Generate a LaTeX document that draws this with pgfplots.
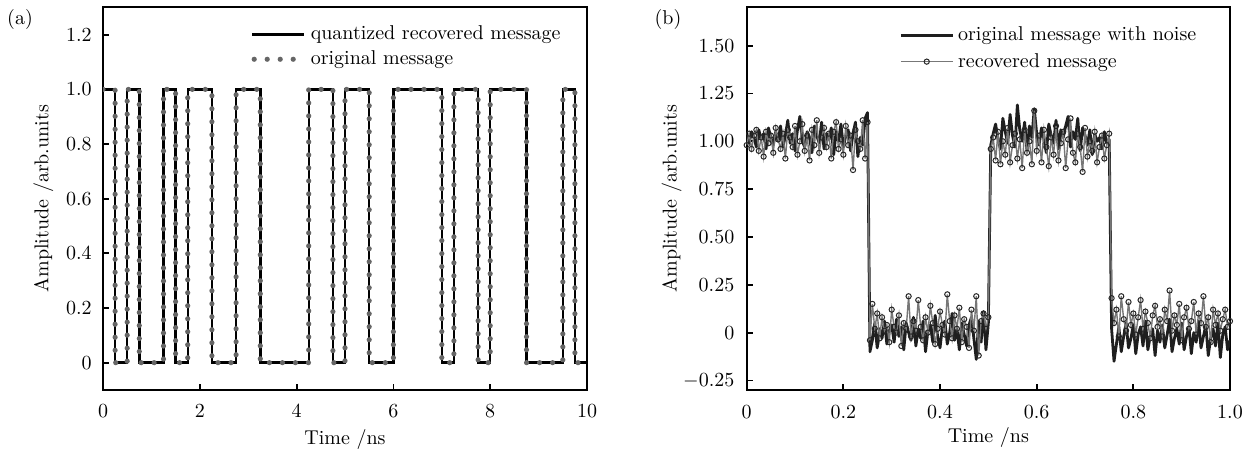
\documentclass[border=0pt]{standalone}
\usepackage{pgfplots}
\pgfplotsset{compat=1.18}
\usepackage{pgfplotstable}

\definecolor{dotgray}{HTML}{666666}
\definecolor{recgray}{HTML}{777777}
\definecolor{noiseblk}{HTML}{1E1E1E}

% panel (b): t, original message with noise, recovered message
\pgfplotstableread{
t orig rec
0.000 1.03 0.98
0.005 0.99 1.04
0.010 1.05 0.96
0.015 1.02 1.03
0.020 0.97 1.06
0.025 1.06 0.95
0.030 1.01 1.02
0.035 1.04 0.92
0.040 0.96 1.05
0.045 1.07 0.99
0.050 1.02 1.03
0.055 0.98 0.94
0.060 1.05 1.07
0.065 1.00 1.01
0.070 1.08 0.96
0.075 0.97 1.04
0.080 1.03 0.91
0.085 1.11 1.06
0.090 0.99 1.02
0.095 1.04 0.97
0.100 0.95 1.08
0.105 1.06 0.93
0.110 1.13 1.00
0.115 1.00 1.09
0.120 0.97 0.95
0.125 1.05 1.03
0.130 1.02 0.90
0.135 0.94 1.06
0.140 1.08 0.98
0.145 1.03 1.11
0.150 0.99 0.94
0.155 1.10 1.02
0.160 0.96 1.07
0.165 1.04 0.97
0.170 1.01 1.04
0.175 1.07 0.91
0.180 0.93 1.05
0.185 1.05 1.10
0.190 1.00 0.96
0.195 1.09 1.01
0.200 0.97 0.93
0.205 1.03 1.08
0.210 1.06 0.98
0.215 0.95 1.03
0.220 1.04 0.85
0.225 1.10 1.06
0.230 0.92 1.00
0.235 1.02 0.96
0.240 0.98 1.11
0.245 1.12 0.91
0.250 1.15 1.10
0.255 -0.10 -0.04
0.260 -0.04 0.15
0.265 0.05 0.02
0.270 -0.08 0.10
0.275 0.02 -0.03
0.280 -0.03 0.08
0.285 0.06 0.01
0.290 -0.06 0.04
0.295 0.01 -0.05
0.300 0.04 0.12
0.305 -0.05 0.03
0.310 0.07 0.00
0.315 -0.02 0.09
0.320 0.03 -0.07
0.325 -0.09 0.05
0.330 0.05 0.02
0.335 0.00 0.19
0.340 -0.04 -0.02
0.345 0.08 0.06
0.350 -0.07 0.01
0.355 0.02 0.17
0.360 -0.03 0.03
0.365 0.06 -0.04
0.370 -0.10 0.08
0.375 0.01 0.00
0.380 0.04 0.14
0.385 -0.05 0.05
0.390 0.09 -0.06
0.395 -0.02 0.02
0.400 -0.08 0.11
0.405 0.03 0.04
0.410 0.06 -0.01
0.415 -0.06 0.20
0.420 0.00 0.06
0.425 0.10 -0.03
0.430 -0.04 0.09
0.435 0.02 0.02
0.440 -0.09 0.13
0.445 0.05 -0.05
0.450 -0.01 0.07
0.455 -0.07 0.03
0.460 0.04 -0.08
0.465 0.08 0.12
0.470 -0.03 0.01
0.475 -0.14 0.19
0.480 0.06 -0.12
0.485 -0.05 0.06
0.490 0.11 0.10
0.495 -0.09 0.02
0.500 0.05 0.08
0.505 0.98 0.96
0.510 1.04 1.02
0.515 1.09 0.90
0.520 1.01 1.05
0.525 0.96 0.88
0.530 1.12 1.00
0.535 1.05 0.93
0.540 0.99 1.07
0.545 1.14 0.89
0.550 1.03 0.98
0.555 0.97 1.04
0.560 1.19 0.91
0.565 1.06 1.01
0.570 1.00 0.86
0.575 1.10 1.06
0.580 0.95 0.94
0.585 1.08 1.00
0.590 1.02 0.88
0.595 1.17 1.16
0.600 1.04 0.95
0.605 0.98 1.03
0.610 1.07 0.89
0.615 1.01 1.06
0.620 0.94 0.97
0.625 1.09 0.87
0.630 1.03 1.02
0.635 0.99 0.93
0.640 1.11 1.08
0.645 0.96 0.90
0.650 1.06 0.99
0.655 1.02 1.05
0.660 1.08 0.86
0.665 1.13 1.01
0.670 0.97 1.12
0.675 1.05 0.94
0.680 1.01 0.89
0.685 1.12 1.04
0.690 0.95 0.97
0.695 1.07 0.84
0.700 1.03 1.07
0.705 0.98 0.92
0.710 1.06 1.00
0.715 0.93 0.95
0.720 1.04 1.05
0.725 1.00 0.89
0.730 1.02 0.97
0.735 0.96 1.03
0.740 1.05 0.91
0.745 0.99 0.98
0.750 1.01 1.04
0.755 0.02 0.18
0.760 -0.15 0.05
0.765 -0.06 0.12
0.770 0.03 -0.02
0.775 -0.10 0.19
0.780 -0.02 0.07
0.785 0.05 0.01
0.790 -0.08 0.16
0.795 -0.03 0.04
0.800 0.04 0.10
0.805 -0.11 -0.01
0.810 -0.01 0.08
0.815 0.03 0.17
0.820 -0.07 0.02
0.825 0.06 0.11
0.830 -0.09 0.05
0.835 -0.02 -0.03
0.840 0.02 0.09
0.845 -0.12 0.14
0.850 0.01 0.03
0.855 -0.05 0.07
0.860 0.04 -0.02
0.865 -0.08 0.12
0.870 -0.01 0.06
0.875 0.07 0.22
0.880 -0.10 0.01
0.885 -0.03 0.09
0.890 0.02 0.04
0.895 -0.06 0.15
0.900 0.05 -0.04
0.905 -0.09 0.08
0.910 -0.02 0.13
0.915 0.03 0.02
0.920 -0.11 0.06
0.925 0.00 0.16
0.930 -0.05 -0.01
0.935 0.06 0.10
0.940 -0.08 0.05
0.945 -0.02 0.19
0.950 0.04 0.03
0.955 -0.12 0.08
0.960 -0.03 -0.05
0.965 0.02 0.12
0.970 -0.07 0.04
0.975 0.05 0.10
0.980 -0.13 0.01
0.985 -0.01 0.07
0.990 0.03 0.12
0.995 -0.09 0.03
1.000 -0.04 0.06
}\noisy

\pgfplotsset{
  panel/.style={
    scale only axis,
    anchor=south west,
    tick align=inside,
    tick pos=left,
    axis line style={line width=0.9pt},
    tick style={black, line width=0.9pt},
    major tick length=3pt,
    xticklabel style={yshift=-4pt},
    legend style={draw=none, fill=none, anchor=north west, inner sep=0pt,
      row sep=0pt, font=\normalsize},
    legend cell align=left,
  },
  linelegend/.style={legend image code/.code={\draw[##1] (0pt,0pt) -- (26pt,0pt);}},
  dotlegend/.style={legend image code/.code={\draw[##1] (1pt,0pt) -- (26pt,0pt);}},
  marklegend/.style={legend image code/.code={%
    \draw[##1, mark repeat=2, mark phase=2] plot coordinates {(0pt,0pt) (13pt,0pt) (26pt,0pt)};}},
}

\begin{document}
\begin{tikzpicture}
\useasboundingbox (0,0) rectangle (626.5pt,226.5pt);

\node at (10pt,216.75pt) {(a)};
\node at (334pt,216.5pt) {(b)};

% (a) bit stream, 0.25 ns per bit
\begin{axis}[panel,
  at={(51.5pt,31.5pt)},
  width=242pt, height=191.3pt,
  xmin=0, xmax=10, ymin=-0.1, ymax=1.3,
  xtick={0,2,4,6,8,10},
  ytick={0,0.2,0.4,0.6,0.8,1.0,1.2},
  yticklabels={0,0.2,0.4,0.6,0.8,1.0,1.2},
  yticklabel style={inner xsep=5.5pt},
  xlabel={Time /ns},
  ylabel={Amplitude /arb.units},
  every axis x label/.style={at={([yshift=-25pt]axis description cs:0.5,0)}, anchor=center},
  every axis y label/.style={at={([xshift=-29.75pt]axis description cs:0,0.5)}, anchor=center, rotate=90},
  legend style={at={(0.305,0.963)}},
]
\addplot[black, line width=1.2pt, const plot mark left, linelegend] coordinates {
  (0,1) (0.25,0) (0.5,1) (0.75,0) (1.25,1) (1.5,0) (1.75,1) (2.25,0)
  (2.75,1) (3.25,0) (4.25,1) (4.75,0) (5,1) (5.5,0) (6,1) (7,0)
  (7.25,1) (7.75,0) (8,1) (8.75,0) (9.5,1) (9.75,0) (10,0)
};
\addlegendentry{quantized recovered message}
\addplot[dotgray, line width=2.6pt, line cap=round, dash pattern=on 0pt off 6.5pt,
  const plot mark left, dotlegend] coordinates {
  (0,1) (0.25,0) (0.5,1) (0.75,0) (1.25,1) (1.5,0) (1.75,1) (2.25,0)
  (2.75,1) (3.25,0) (4.25,1) (4.75,0) (5,1) (5.5,0) (6,1) (7,0)
  (7.25,1) (7.75,0) (8,1) (8.75,0) (9.5,1) (9.75,0) (10,0)
};
\addlegendentry{original message}
\end{axis}

% (b) noisy message and recovered message
\begin{axis}[panel,
  at={(373.35pt,31.5pt)},
  width=241.65pt, height=191.3pt,
  xmin=0, xmax=1, ymin=-0.3, ymax=1.7,
  xtick={0,0.2,0.4,0.6,0.8,1.0},
  xticklabels={0,0.2,0.4,0.6,0.8,1.0},
  ytick={-0.25,0,0.25,0.5,0.75,1,1.25,1.5},
  yticklabels={$-0.25$,0,0.25,0.50,0.75,1.00,1.25,1.50},
  yticklabel style={inner xsep=6pt},
  xlabel={Time /ns},
  ylabel={Amplitude /arb.units},
  every axis x label/.style={at={([yshift=-24pt]axis description cs:0.5,0)}, anchor=center},
  every axis y label/.style={at={([xshift=-37.5pt]axis description cs:0,0.5)}, anchor=center, rotate=90},
  legend style={at={(0.315,0.961)}, row sep=0.8pt},
]
\addplot[noiseblk, line width=1.4pt, line join=round, linelegend] table[x=t, y=orig] {\noisy};
\addlegendentry{original message with noise}
\addplot[recgray, line width=0.7pt, mark=o, mark size=1.3pt,
  mark options={fill=white, draw=black!85, line width=0.5pt}, marklegend]
  table[x=t, y=rec] {\noisy};
\addlegendentry{recovered message}
\end{axis}
\end{tikzpicture}
\end{document}
